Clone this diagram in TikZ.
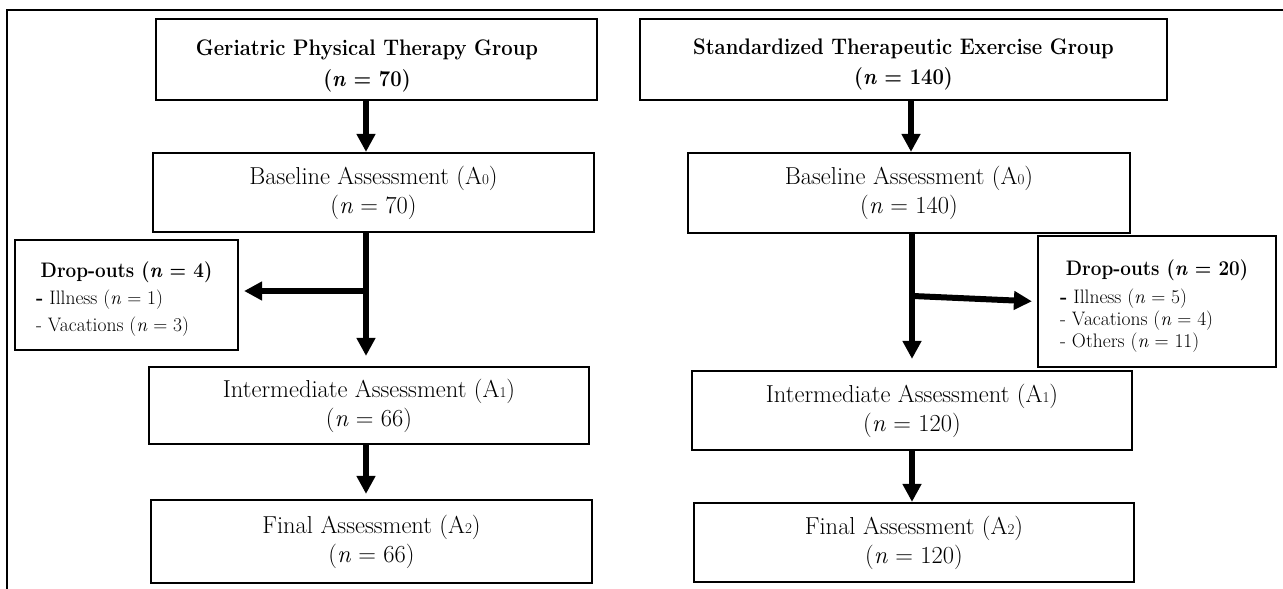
\documentclass[tikz,border=0pt]{standalone}
\usepackage{graphicx}
\usetikzlibrary{arrows.meta}
\newcommand{\subdig}[1]{{\fontsize{15}{15}\selectfont #1}}
\newcommand{\narrowtxt}[1]{\scalebox{0.9}[1]{#1}}
\begin{document}
\begin{tikzpicture}[x=1pt,y=-1pt,
  box/.style={draw, line width=2.2pt, inner sep=0pt, align=center, font=\fontsize{24.5}{29}\selectfont},
  emptybox/.style={draw, line width=2.2pt, inner sep=0pt},
  ttltext/.style={anchor=base, inner sep=0pt, font=\fontsize{22.5}{22.5}\bfseries\selectfont},
  dtitle/.style={anchor=base, inner sep=0pt, font=\fontsize{21}{21}\bfseries\selectfont},
  ditem/.style={anchor=base west, inner sep=0pt, font=\fontsize{19.5}{20}\selectfont},
  arr/.style={line width=6pt, -{Triangle[length=18pt,width=18pt]}},
  frameline/.style={line width=2pt}]
\useasboundingbox (0,0) rectangle (1283,589);
% outer frame
\draw[frameline] (7,589) -- (7,10) -- (1283,10);
% column coordinates
\coordinate (colL) at (366,0);
\coordinate (colR) at (911,0);
% left column
\node[emptybox, minimum width=441pt, minimum height=81pt] (L1) at (376.5,59.5) {};
\node[ttltext] (L1a) at (367,55) {\narrowtxt{Geriatric Physical Therapy Group}};
\node[ttltext] (L1b) at (367,86) {\narrowtxt{(\textit{n} = 70)}};
\node[box, minimum width=441pt, minimum height=79pt] (L2) at (373.5,192.5)
  {Baseline Assessment (A\subdig{0})\\(\textit{n} = 70)};
\node[emptybox, minimum width=223pt, minimum height=110pt] (DL) at (126.5,295) {};
\node[dtitle] (DLt) at (126.5,277) {\narrowtxt{Drop-outs (\textit{n} = 4)}};
\node[ditem] (DLa) at (36,304) {\textbf{-} Illness (\textit{n} = 1)};
\node[ditem] (DLb) at (36,331) {- Vacations (\textit{n} = 3)};
\node[box, minimum width=440pt, minimum height=77pt] (L3) at (369,405.5)
  {Intermediate Assessment (A\subdig{1})\\(\textit{n} = 66)};
\node[box, minimum width=441pt, minimum height=83pt] (L4) at (371.5,541.5)
  {Final Assessment (A\subdig{2})\\(\textit{n} = 66)};
% right column
\node[emptybox, minimum width=527pt, minimum height=81pt] (R1) at (903.5,59.5) {};
\node[ttltext] (R1a) at (903.5,54) {\narrowtxt{Standardized Therapeutic Exercise Group}};
\node[ttltext] (R1b) at (903.5,84) {\narrowtxt{(\textit{n} = 140)}};
\node[box, minimum width=442pt, minimum height=80pt] (R2) at (909,193)
  {Baseline Assessment (A\subdig{0})\\(\textit{n} = 140)};
\node[emptybox, minimum width=238pt, minimum height=131pt] (DR) at (1157,301.5) {};
\node[dtitle] (DRt) at (1157,275) {\narrowtxt{Drop-outs (\textit{n} = 20)}};
\node[ditem] (DRa) at (1060,303) {\textbf{-} Illness (\textit{n} = 5)};
\node[ditem] (DRb) at (1060,325) {- Vacations (\textit{n} = 4)};
\node[ditem] (DRc) at (1060,347) {- Others (\textit{n} = 11)};
\node[box, minimum width=440pt, minimum height=79pt] (R3) at (912,410.5)
  {Intermediate Assessment (A\subdig{1})\\(\textit{n} = 120)};
\node[box, minimum width=440pt, minimum height=79pt] (R4) at (914,542.5)
  {Final Assessment (A\subdig{2})\\(\textit{n} = 120)};
% branch points
\coordinate (bL) at (366,291);
\coordinate (bR) at (913,296);
% left arrows
\draw[arr] (L1.south -| colL) -- (L2.north -| colL);
\draw[arr] (L2.south -| colL) -- ([yshift=10pt]L3.north -| colL);
\draw[arr] (bL) -- ([xshift=5pt]DL.east |- bL);
\draw[arr] (L3.south -| colL) -- ([yshift=5pt]L4.north -| colL);
% right arrows
\draw[arr] (R1.south -| colR) -- (R2.north -| colR);
\draw[arr] ([xshift=1pt]R2.south -| colR) -- ([xshift=1pt,yshift=11pt]R3.north -| colR);
\draw[arr, shorten >=5pt] (bR) -- (DR.west);
\draw[arr] ([xshift=1pt]R3.south -| colR) -- ([xshift=1pt]R4.north -| colR);
\end{tikzpicture}
\end{document}
